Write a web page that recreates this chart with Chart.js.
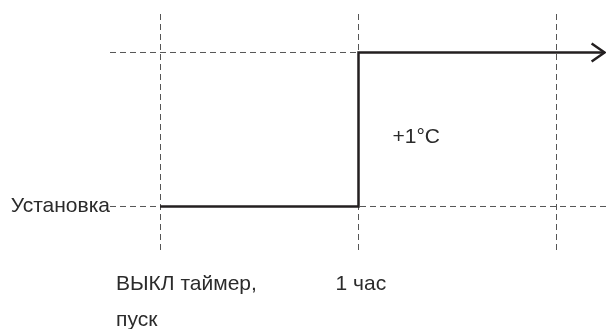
<!DOCTYPE html>
<html>
<head>
<meta charset="utf-8">
<script src="https://cdn.jsdelivr.net/npm/chart.js@4/dist/chart.umd.min.js"></script>
<style>
  html, body { margin: 0; padding: 0; background: #fff; }
</style>
</head>
<body>
<canvas id="chart" width="606" height="329"></canvas>
<script>
// Time axis (hours after the OFF timer is started)
const timeTicks = [0, 1, 2];
const timeLabels = [["ВЫКЛ таймер,", "пуск"], ["1 час"]];

// Setpoint curve: stays at the setpoint for 1 hour, then +1°C
const stepTimes = [0, 1, 1, 2.24];
const stepLevels = [0, 0, 1, 1];

// Level axis
const levelTicks = [0];
const levelLabels = ["Установка"];
const riseLabel = "+1°C";

const X_MIN = -0.252;
const X_MAX = 2.247;
const Y_MIN = -0.302;
const Y_MAX = 1.25;

const FONT = '"Liberation Sans", Arial, sans-serif';
const FONT_SIZE = 21;
const TEXT_COLOR = "#2b2b2b";
const LINE_COLOR = "#231f20";
const DASH_COLOR = "#555555";

const toPoints = (xs, ys) => xs.map((x, i) => ({ x: x, y: ys[i] }));

// Arrow head at the end of the curve + free text labels
const annotations = {
  id: "annotations",
  afterDatasetsDraw(chart) {
    const ctx = chart.ctx;
    const xs = chart.scales.x;
    const ys = chart.scales.y;

    // arrow head
    const last = stepTimes.length - 1;
    const tx = xs.getPixelForValue(stepTimes[last]);
    const ty = ys.getPixelForValue(stepLevels[last]);
    ctx.save();
    ctx.strokeStyle = LINE_COLOR;
    ctx.lineWidth = 2.5;
    ctx.beginPath();
    ctx.moveTo(tx - 13, ty - 9);
    ctx.lineTo(tx, ty);
    ctx.lineTo(tx - 13, ty + 9);
    ctx.stroke();

    ctx.fillStyle = TEXT_COLOR;
    ctx.font = FONT_SIZE + "px " + FONT;
    ctx.textAlign = "left";
    ctx.textBaseline = "middle";

    // +1°C next to the rise
    ctx.fillText(riseLabel, xs.getPixelForValue(1) + 34, ys.getPixelForValue(0.45));

    // time labels under the axis
    const offsets = [-44, -23];
    timeLabels.forEach((lines, i) => {
      const x = xs.getPixelForValue(timeTicks[i]) + offsets[i];
      lines.forEach((line, j) => {
        ctx.fillText(line, x, chart.chartArea.bottom + 31 + j * 36);
      });
    });
    ctx.restore();
  },
};

new Chart(document.getElementById("chart"), {
  type: "line",
  data: {
    datasets: [
      {
        label: "Уставка",
        data: toPoints(stepTimes, stepLevels),
        borderColor: LINE_COLOR,
        borderWidth: 2.5,
        pointRadius: 0,
        tension: 0,
      },
      {
        label: "Уровень +1°C",
        data: toPoints([X_MIN, 1], [1, 1]),
        borderColor: DASH_COLOR,
        borderWidth: 1,
        borderDash: [6, 4],
        pointRadius: 0,
      },
      {
        label: "Уровень установки",
        data: toPoints([X_MIN, X_MAX], [0, 0]),
        borderColor: DASH_COLOR,
        borderWidth: 1,
        borderDash: [6, 4],
        pointRadius: 0,
      },
    ],
  },
  options: {
    responsive: false,
    animation: false,
    layout: { padding: { top: 14, right: 0, left: 0, bottom: 0 } },
    plugins: {
      legend: { display: false },
      tooltip: { enabled: false },
    },
    scales: {
      x: {
        type: "linear",
        min: X_MIN,
        max: X_MAX,
        afterBuildTicks: (axis) => {
          axis.ticks = timeTicks.map((v) => ({ value: v }));
        },
        afterFit: (axis) => {
          axis.height = 76;
        },
        ticks: { display: false },
        grid: {
          color: DASH_COLOR,
          lineWidth: 1,
          drawTicks: false,
        },
        border: { display: false, dash: [6, 4] },
      },
      y: {
        type: "linear",
        min: Y_MIN,
        max: Y_MAX,
        afterBuildTicks: (axis) => {
          axis.ticks = levelTicks.map((v) => ({ value: v }));
        },
        afterFit: (axis) => {
          axis.width = 110;
        },
        ticks: {
          padding: 0,
          color: TEXT_COLOR,
          font: { family: FONT, size: FONT_SIZE },
          callback: (value, index) => levelLabels[index],
        },
        grid: { display: false, drawTicks: false },
        border: { display: false },
      },
    },
  },
  plugins: [annotations],
});
</script>
</body>
</html>
